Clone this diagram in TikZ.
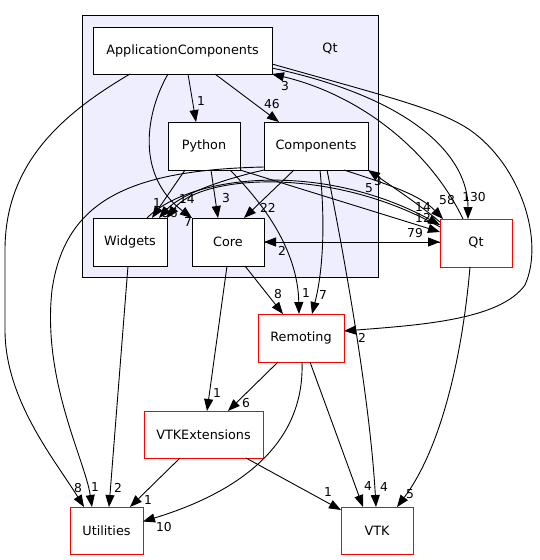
\documentclass[tikz,border=0pt]{standalone}
\usepackage{fontspec}
\setmainfont{DejaVu Sans}
\usetikzlibrary{arrows.meta,calc}
\definecolor{clusterfill}{HTML}{EEEEFF}
\begin{document}
\begin{tikzpicture}[x=1pt,y=-1pt,
  box/.style={draw=black, fill=white, line width=0.9pt, inner sep=0pt, outer sep=0pt, font=\fontsize{12.8}{14}\selectfont},
  ext/.style={box, draw=red},
  lbl/.style={inner sep=0pt, font=\fontsize{12.3}{13}\selectfont},
  dep/.style={draw=black, line width=0.9pt, -{Triangle[length=12pt,width=9pt]}}]
\useasboundingbox (0,0) rectangle (539,560);
% cluster
\node[draw=black, fill=clusterfill, line width=0.9pt, minimum width=296pt, minimum height=262pt, inner sep=0pt, outer sep=0pt] (cluster) at (230,146) {};
\node[font=\fontsize{12.8}{14}\selectfont, inner sep=0pt] (qtlabel) at (330,49) {Qt};
% nodes
\node[box, minimum width=179pt, minimum height=47pt] (AC) at (182.5,50.5) {ApplicationComponents};
\node[box, minimum width=72pt, minimum height=48pt] (Python) at (204,146) {Python};
\node[box, minimum width=104pt, minimum height=48pt] (Comp) at (316,146) {Components};
\node[box, minimum width=74pt, minimum height=48pt] (Widgets) at (130,242) {Widgets};
\node[box, minimum width=72pt, minimum height=48pt] (Core) at (228,242) {Core};
\node[ext, minimum width=72pt, minimum height=48pt] (Qt) at (476,243) {Qt};
\node[ext, minimum width=86pt, minimum height=48pt] (Rem) at (301,338) {Remoting};
\node[ext, minimum width=119pt, minimum height=47pt] (VTKE) at (203.5,434.5) {VTKExtensions};
\node[ext, minimum width=73pt, minimum height=47pt] (Util) at (106.5,530.5) {Utilities};
\node[ext, minimum width=72pt, minimum height=47pt] (VTK) at (377,530.5) {VTK};
% edges from ApplicationComponents
\draw[dep] ($(AC.south west)+(95,0)$) -- ($(Python.north west)+(28,0)$) node[lbl] at (201,101) {1};
\draw[dep] ($(AC.south west)+(122,0)$) -- ($(Comp.north west)+(15,0)$) node[lbl] at (272,104) {46};
\draw[dep] ($(AC.south west)+(75,0)$) .. controls (146,112) and (135,175) .. (Core.north west) node[lbl] at (187,199) {14};
\draw[dep] ($(AC.south west)+(37,0)$) .. controls (60,115) and (5,165) .. (5,250) -- (5,330) .. controls (5,400) and (55,460) .. ($(Util.north west)+(14,0)$) node[lbl] at (78,488) {8};
\draw[dep] ($(AC.south east)+(0,-6)$) .. controls (420,100) and (468,160) .. ($(Qt.north west)+(28,0)$) node[lbl] at (474,197) {130};
\draw[dep] ($(Qt.north west)+(23,0)$) .. controls (430,150) and (360,95) .. (AC.south east) node[lbl] at (285,86) {3};
\draw[dep] ($(AC.south east)+(0,-10)$) .. controls (400,100) and (440,110) .. (470,130) .. controls (520,165) and (545,240) .. (525,285) .. controls (500,320) and (420,325) .. ($(Rem.east)+(0,-7)$) node[lbl] at (362,338) {2};
% edges from Python
\draw[dep] ($(Python.south west)+(17,0)$) -- ($(Widgets.north east)+(-15,0)$) node[lbl] at (157,203) {1};
\draw[dep] ($(Python.south west)+(43,0)$) -- ($(Core.north west)+(26,0)$) node[lbl] at (226,198) {3};
\draw[dep] ($(Python.south west)+(62,0)$) .. controls (275,215) and (298,260) .. ($(Rem.north west)+(41,0)$) node[lbl] at (306,293) {1};
\draw[dep] (Python.south east) -- ($(Qt.north west)+(0,13)$) node[lbl] at (423,218) {12};
% edges from Components
\draw[dep] (Comp.south west) .. controls (220,180) and (180,195) .. ($(Widgets.north east)+(-8,0)$) node[lbl] at (170,213) {56};
\draw[dep] ($(Comp.south west)+(30,0)$) -- ($(Core.north east)+(-20,0)$) node[lbl] at (268,208) {22};
\draw[dep] ($(Comp.south west)+(56,0)$) .. controls (326,230) and (322,275) .. ($(Rem.north west)+(54,0)$) node[lbl] at (323,295) {7};
\draw[dep] ($(Comp.south west)+(63,0)$) .. controls (345,260) and (370,400) .. ($(VTK.north west)+(35,0)$) node[lbl] at (384,487) {4};
\draw[dep] ($(Comp.south west)+(80,0)$) .. controls (390,185) and (420,195) .. ($(Qt.north west)+(3,0)$) node[lbl] at (447,200) {58};
\draw[dep] ($(Comp.south west)+(0,-3)$) .. controls (130,170) and (65,200) .. (52,290) .. controls (42,380) and (85,460) .. ($(Util.north west)+(22,0)$) node[lbl] at (95,487) {1};
% edges from Qt
\draw[dep] ($(Qt.north west)+(0,3)$) .. controls (420,205) and (390,185) .. (Comp.south east) node[lbl] at (369,188) {5} node[lbl] at (378,181) {3};
\draw[dep] ($(Qt.north west)+(0,8)$) .. controls (330,165) and (200,175) .. (Widgets.north east) node[lbl] at (188,222) {7};
\draw[dep] (Qt.west |- Core.east) -- (Core.east) node[lbl] at (282,251) {2};
\draw[dep] ($(Qt.south west)+(30,0)$) .. controls (462,360) and (440,450) .. ($(VTK.north west)+(56,0)$) node[lbl] at (410,494) {5};
% edges from Widgets
\draw[dep] ($(Widgets.north east)+(-20,0)$) .. controls (190,175) and (320,160) .. ($(Qt.north west)+(0,6)$) node[lbl] at (423,207) {14};
\draw[dep] ($(Widgets.south west)+(35,0)$) -- ($(Util.north west)+(39,0)$) node[lbl] at (118,488) {2};
% edges from Core
\draw[dep] (Core.east) -- (Core.east -| Qt.west) node[lbl] at (415,233) {79};
\draw[dep] ($(Core.south west)+(53,0)$) -- ($(Rem.north west)+(25,0)$) node[lbl] at (278,294) {8};
\draw[dep] ($(Core.south west)+(35,0)$) -- ($(VTKE.north west)+(63,0)$) node[lbl] at (217,393) {1};
% edges from Remoting
\draw[dep] ($(Rem.south west)+(20,0)$) -- ($(VTKE.north west)+(84,0)$) node[lbl] at (246,403) {6};
\draw[dep] ($(Rem.south west)+(52,0)$) -- ($(VTK.north west)+(22,0)$) node[lbl] at (368,486) {4};
\draw[dep] ($(Rem.south west)+(44,0)$) .. controls (305,450) and (230,495) .. ($(Util.east)+(0,-9)$) node[lbl] at (164,527) {10};
% edges from VTKExtensions
\draw[dep] ($(VTKE.south west)+(36,0)$) -- ($(Util.north east)+(-13,0)$) node[lbl] at (148,500) {1};
\draw[dep] ($(VTKE.south west)+(102,0)$) -- ($(VTK.north west)+(0,3)$) node[lbl] at (328,492) {1};
\end{tikzpicture}
\end{document}
